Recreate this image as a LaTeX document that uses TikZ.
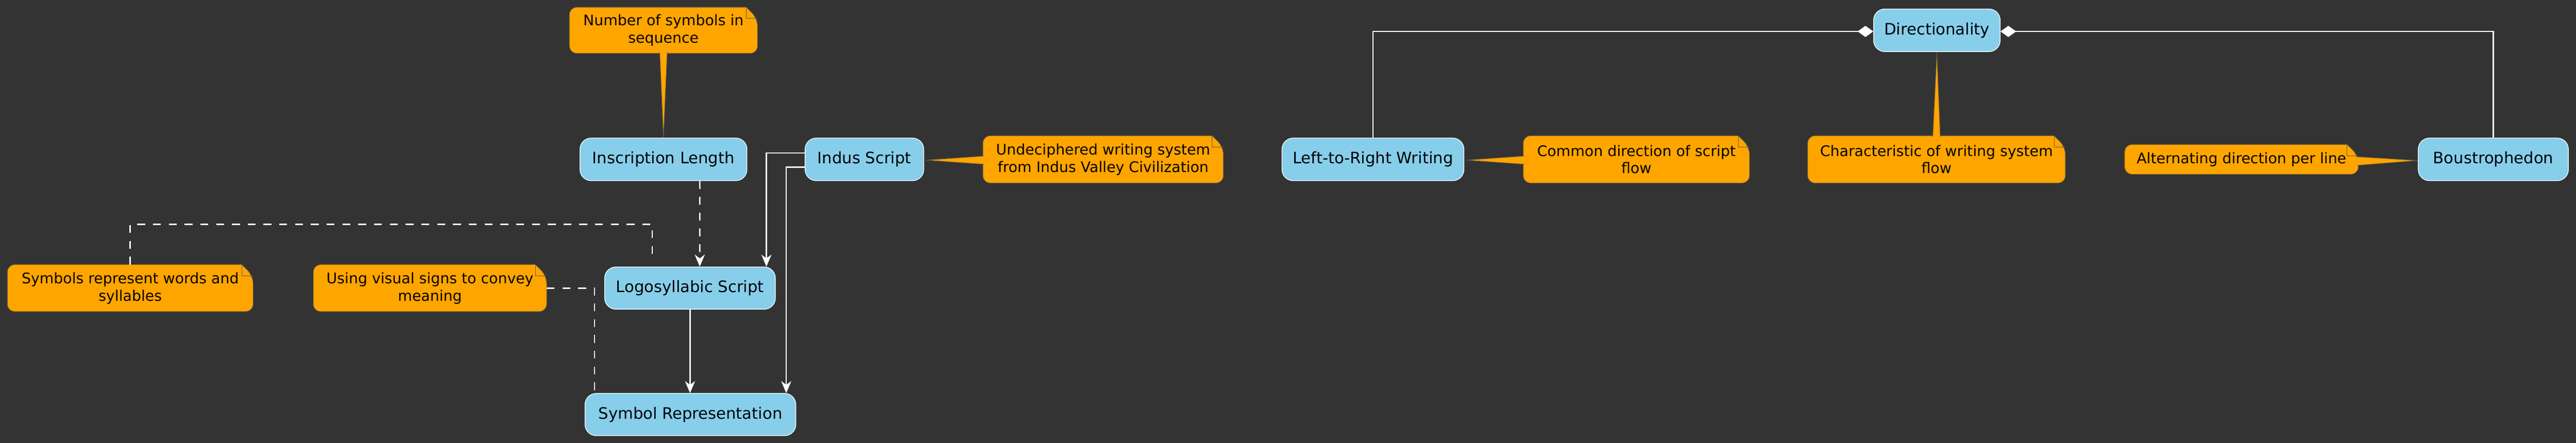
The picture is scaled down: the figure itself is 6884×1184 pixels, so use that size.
\documentclass[tikz,border=0pt]{standalone}
\usepackage{fontspec}
\setmainfont{DejaVu Sans}
\usepackage{xcolor}
\usetikzlibrary{arrows.meta,backgrounds}

\definecolor{bgdark}{HTML}{333333}
\definecolor{skyfill}{HTML}{87CEEB}
\definecolor{notefill}{HTML}{FFA500}
\definecolor{noteline}{HTML}{6B5A3A}

\tikzset{
  concept/.style={draw=white, line width=0.5pt, fill=skyfill, text=black, rounded corners=0.3cm,
    minimum height=1.14cm, inner sep=0pt, font=\fontsize{12}{14}\selectfont},
  note/.style={align=center, text=black, inner sep=0pt, minimum height=1.25cm,
    font=\fontsize{11.1}{13.3}\selectfont},
  notebox/.style={fill=notefill, draw=noteline, line width=0.4pt},
  link/.style={draw=white, line width=1pt},
  arrowlink/.style={link, -{Stealth[length=0.32cm, width=0.27cm, inset=0.1cm, fill=white]}},
  dashlink/.style={link, dash pattern=on 6pt off 6pt},
  partlink/.style={link, -{Diamond[length=0.42cm, width=0.30cm, fill=white]}}
}

\newcommand{\notebody}[1]{%
  \filldraw[notebox] ([xshift=-0.3cm]#1.north east) [rounded corners=0.2cm] -- (#1.north west) -- (#1.south west)
    -- (#1.south east) -- ([yshift=-0.3cm]#1.north east) [sharp corners] -- cycle;
  \draw[noteline, line width=0.4pt] ([xshift=-0.3cm]#1.north east) -- ([xshift=-0.3cm,yshift=-0.3cm]#1.north east)
    -- ([yshift=-0.3cm]#1.north east);}
\newcommand{\notetail}[3]{\filldraw[notebox] (#1) -- (#2) -- (#3);}

\begin{document}
\begin{tikzpicture}[x=0.01cm,y=-0.01cm]
\useasboundingbox (0,0) rectangle (6884,1184);

\node[concept, minimum width=4.46cm] (inscr) at (1773,426) {Inscription Length};
\node[concept, minimum width=3.17cm] (indus) at (2310,426) {Indus Script};
\node[concept, minimum width=4.86cm] (ltr) at (3669,426) {Left-to-Right Writing};
\node[concept, minimum width=3.38cm] (direc) at (5176,81) {Directionality};
\node[concept, minimum width=4.01cm] (boustro) at (6663,426) {Boustrophedon};
\node[concept, minimum width=4.56cm, minimum height=1.13cm] (logo) at (1844,770) {Logosyllabic Script};
\node[concept, minimum width=5.63cm, minimum height=1.13cm] (symrep) at (1845,1108) {Symbol Representation};

\node[note, minimum width=5.01cm, minimum height=1.22cm] (lennote) at (1773,81) {Number of symbols in\\sequence};
\node[note, minimum width=6.41cm] (decnote) at (2948,426) {Undeciphered writing system\\from Indus Valley Civilization};
\node[note, minimum width=6.03cm] (flownote) at (4373,426) {Common direction of script\\flow};
\node[note, minimum width=6.87cm] (charnote) at (5175,426) {Characteristic of writing system\\flow};
\node[note, minimum width=6.23cm, minimum height=0.78cm] (altnote) at (5990,426) {Alternating direction per line};
\node[note, minimum width=6.55cm, minimum height=1.24cm] (wordnote) at (348,770) {Symbols represent words and\\syllables};
\node[note, minimum width=6.22cm, minimum height=1.24cm] (signnote) at (1149,770) {Using visual signs to convey\\meaning};

\draw[dashlink, -{Stealth[length=0.32cm, width=0.27cm, inset=0.1cm, fill=white]}] ([xshift=0.97cm]inscr.south) -- ([xshift=0.26cm]logo.north);
\draw[arrowlink] ([yshift=0.17cm]indus.west) -| ([xshift=2.04cm]logo.north);
\draw[arrowlink] ([yshift=-0.21cm]indus.west) -| ([xshift=2.56cm]symrep.north);
\draw[arrowlink] (logo.south) -- (logo.south |- symrep.north);
\draw[dashlink, shorten >=0.18cm] (wordnote.north) -- ++(0,-108) -| ([xshift=-1.01cm]logo.north);
\draw[dashlink] (signnote.east) -| ([xshift=-2.56cm]symrep.north);
\draw[partlink] (ltr.north) |- ([yshift=-0.03cm]direc.west);
\draw[partlink] (boustro.north) |- ([yshift=-0.03cm]direc.east);

\begin{scope}[on background layer]
\fill[bgdark] (0,0) rectangle (6884,1184);
\foreach \n in {lennote,decnote,flownote,charnote,altnote,wordnote,signnote} {\notebody{\n}}
\notetail{[xshift=-0.1cm,yshift=0.03cm]lennote.south}{inscr.north}{[xshift=0.1cm,yshift=0.03cm]lennote.south}
\notetail{[xshift=0.03cm,yshift=0.09cm]decnote.west}{[xshift=0.05cm,yshift=-0.02cm]indus.east}{[xshift=0.03cm,yshift=-0.13cm]decnote.west}
\notetail{[xshift=0.03cm,yshift=0.09cm]flownote.west}{[xshift=0.05cm,yshift=-0.02cm]ltr.east}{[xshift=0.03cm,yshift=-0.13cm]flownote.west}
\notetail{[xshift=-0.1cm,yshift=-0.03cm]charnote.north}{direc.south}{[xshift=0.1cm,yshift=-0.03cm]charnote.north}
\notetail{[xshift=-0.03cm,yshift=0.07cm]altnote.east}{[yshift=-0.03cm]boustro.west}{[xshift=-0.03cm,yshift=-0.16cm]altnote.east}
\end{scope}
\end{tikzpicture}
\end{document}
